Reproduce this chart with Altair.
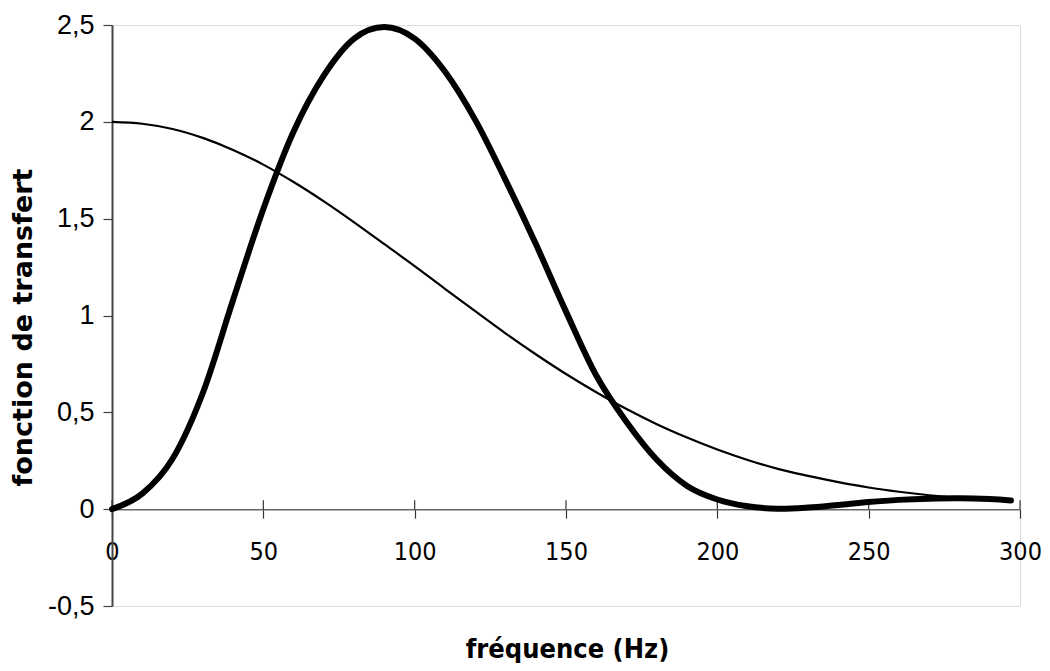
import altair as alt
import pandas as pd

# Frequencies (Hz)
freq = [0, 10, 20, 30, 40, 50, 60, 70, 80, 90, 100, 110, 120, 130, 140, 150,
        160, 170, 180, 190, 200, 210, 220, 230, 240, 250, 260, 270, 280, 290, 297]
# Thin curve
thin_vals = [2.00, 1.99, 1.963, 1.917, 1.855, 1.779, 1.689, 1.589, 1.481, 1.368,
             1.255, 1.138, 1.022, 0.908, 0.80, 0.698, 0.604, 0.517, 0.439, 0.37,
             0.308, 0.254, 0.208, 0.172, 0.14, 0.112, 0.09, 0.072, 0.058, 0.05, 0.045]
# Thick curve
thick_vals = [0.00, 0.08, 0.26, 0.60, 1.08, 1.55, 1.95, 2.24, 2.43, 2.49,
              2.43, 2.26, 2.01, 1.70, 1.37, 1.02, 0.69, 0.45, 0.255, 0.12,
              0.05, 0.015, 0.002, 0.008, 0.022, 0.037, 0.048, 0.054, 0.056, 0.052, 0.045]

x_ticks = [0, 50, 100, 150, 200, 250, 300]
y_ticks = [-0.5, 0, 0.5, 1, 1.5, 2, 2.5]

W, H = 908, 581
Y_MIN, Y_MAX = -0.5, 2.5
zero_offset = -H * (0 - Y_MIN) / (Y_MAX - Y_MIN)
tick_half = 9 * (Y_MAX - Y_MIN) / H

thin_df = pd.DataFrame({"f": freq, "v": thin_vals})
thick_df = pd.DataFrame({"f": freq, "v": thick_vals})
tick_df = pd.DataFrame({"f": x_ticks, "v": [0] * len(x_ticks),
                        "v2": [tick_half] * len(x_ticks)})

NARROW = "Liberation Sans Narrow, DejaVu Sans Condensed, Liberation Sans"

xenc = alt.X(
    "f:Q",
    scale=alt.Scale(domain=[0, 300], nice=False, zero=False),
    axis=alt.Axis(
        values=x_ticks,
        title="fréquence (Hz)",
        offset=zero_offset,
        grid=False,
        domainColor="#666666",
        domainWidth=1.5,
        tickColor="#333333",
        tickSize=9,
        tickWidth=1.2,
        labelFont=NARROW,
        labelFontSize=25,
        labelColor="#000000",
        labelPadding=21,
        labelFlush=False,
        labelOverlap=False,
        titleFont=NARROW,
        titleFontSize=27,
        titleFontWeight="bold",
        titleColor="#000000",
        titleX=455,
        titleY=148,
        titleBaseline="alphabetic",
    ),
)
yenc = alt.Y(
    "v:Q",
    scale=alt.Scale(domain=[Y_MIN, Y_MAX], nice=False, zero=False),
    axis=alt.Axis(
        values=y_ticks,
        title="fonction de transfert",
        labelExpr="replace(toString(datum.value), '.', ',')",
        grid=False,
        domainColor="#444444",
        domainWidth=2,
        tickColor="#444444",
        tickSize=9,
        tickWidth=1.2,
        labelFont="Liberation Sans",
        labelFontSize=27,
        labelColor="#000000",
        labelPadding=9,
        labelOverlap=False,
        titleFont="DejaVu Sans",
        titleFontSize=27,
        titleFontWeight="bold",
        titleColor="#000000",
        titleX=-89,
        titleY=302,
        titleBaseline="middle",
    ),
)

thin = alt.Chart(thin_df).mark_line(
    color="#000000", strokeWidth=2.2, interpolate="cardinal"
).encode(x=xenc, y=yenc)

thick = alt.Chart(thick_df).mark_line(
    color="#000000", strokeWidth=6, interpolate="cardinal", strokeCap="round"
).encode(x=xenc, y=yenc)

ticks_up = alt.Chart(tick_df).mark_rule(color="#333333", strokeWidth=1.2).encode(
    x=xenc, y=yenc, y2="v2:Q"
)

chart = alt.layer(ticks_up, thin, thick).properties(
    width=W,
    height=H,
    padding={"left": 104, "top": 17, "right": 22, "bottom": 57},
    autosize=alt.AutoSizeParams(type="none"),
).configure_view(
    stroke="#999999", strokeWidth=2
).configure(background="white")

chart.save("out.html", embed_options={"renderer": "svg", "actions": False})
